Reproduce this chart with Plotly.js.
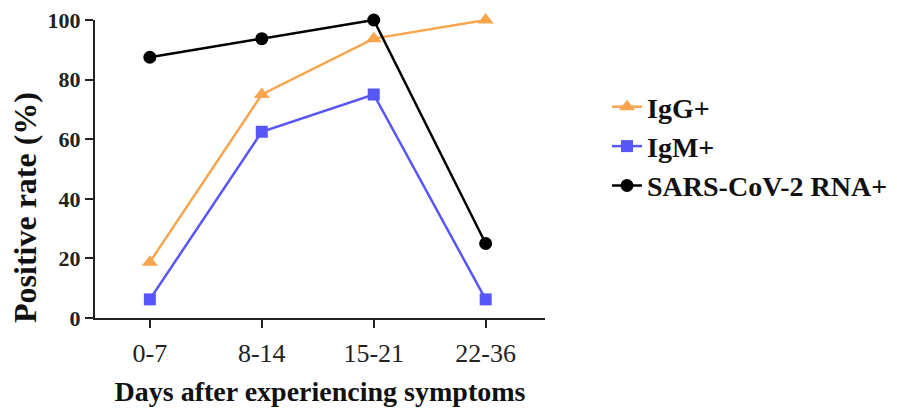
<!DOCTYPE html>
<html>
<head>
<meta charset="utf-8">
<script src="https://cdn.plot.ly/plotly-3.0.1.min.js"></script>
<style>html,body{margin:0;padding:0;background:#fff;}#chart{width:897px;height:412px;}</style>
</head>
<body>
<div id="chart"></div>
<script>
const categories = ["0-7", "8-14", "15-21", "22-36"];
const iggValues = [18.75, 75, 93.75, 100];
const igmValues = [6.25, 62.5, 75, 6.25];
const rnaValues = [87.5, 93.75, 100, 25];
const seriesNames = ["IgG+", "IgM+", "SARS-CoV-2 RNA+"];
const yTicks = [0, 20, 40, 60, 80, 100];
const xTitle = "Days after experiencing symptoms";
const yTitle = "Positive rate (%)";

const xIdx = categories.map((c, i) => i);
const serif = "Liberation Serif, Times New Roman, serif";

const traces = [
  {x: xIdx, y: iggValues, name: seriesNames[0], legendgroup: "a", mode: "lines+markers",
   line: {color: "#F8A54C", width: 2.5}, marker: {symbol: "triangle-up", size: 14, color: "#F8A54C"}, cliponaxis: false},
  {x: xIdx, y: igmValues, name: seriesNames[1], legendgroup: "b", mode: "lines+markers",
   line: {color: "#5757F7", width: 2.5}, marker: {symbol: "square", size: 12, color: "#5757F7"}, cliponaxis: false},
  {x: xIdx, y: rnaValues, name: seriesNames[2], legendgroup: "c", mode: "lines+markers",
   line: {color: "#000000", width: 2.5}, marker: {symbol: "circle", size: 13, color: "#000000"}, cliponaxis: false}
];

const layout = {
  width: 897, height: 412,
  margin: {l: 95, r: 352, t: 20, b: 94},
  paper_bgcolor: "#fff", plot_bgcolor: "#fff",
  font: {family: serif, color: "#111"},
  showlegend: true,
  legend: {
    xref: "container", yref: "container", x: 607 / 897, y: 1 - 82 / 412, xanchor: "left", yanchor: "top",
    font: {family: serif, size: 28, weight: "bold", color: "#111"},
    tracegroupgap: 0, itemwidth: 30, bgcolor: "rgba(0,0,0,0)"
  },
  xaxis: {
    range: [-0.49, 3.53], tickvals: xIdx, ticktext: categories,
    showgrid: false, zeroline: false, showline: true, linecolor: "#222", linewidth: 2,
    ticks: "outside", ticklen: 8, tickwidth: 2, tickcolor: "#222",
    tickfont: {family: serif, size: 26, color: "#222"}, ticklabelstandoff: 3,
    title: {text: xTitle, font: {family: serif, size: 28, weight: "bold", color: "#111"}, standoff: 14}
  },
  yaxis: {
    range: [0, 100], tickvals: yTicks,
    showgrid: false, zeroline: false, showline: true, linecolor: "#222", linewidth: 2,
    ticks: "outside", ticklen: 8, tickwidth: 2, tickcolor: "#222",
    tickfont: {family: serif, size: 22, weight: "bold", color: "#222"}
  },
  annotations: [{
    text: yTitle, textangle: -90, showarrow: false,
    xref: "paper", yref: "paper", x: (25 - 95) / 450, y: (318 - 208) / 298,
    xanchor: "center", yanchor: "middle",
    font: {family: serif, size: 32, weight: "bold", color: "#111"}
  }]
};

Plotly.newPlot("chart", traces, layout, {displayModeBar: false, staticPlot: true});
</script>
</body>
</html>
